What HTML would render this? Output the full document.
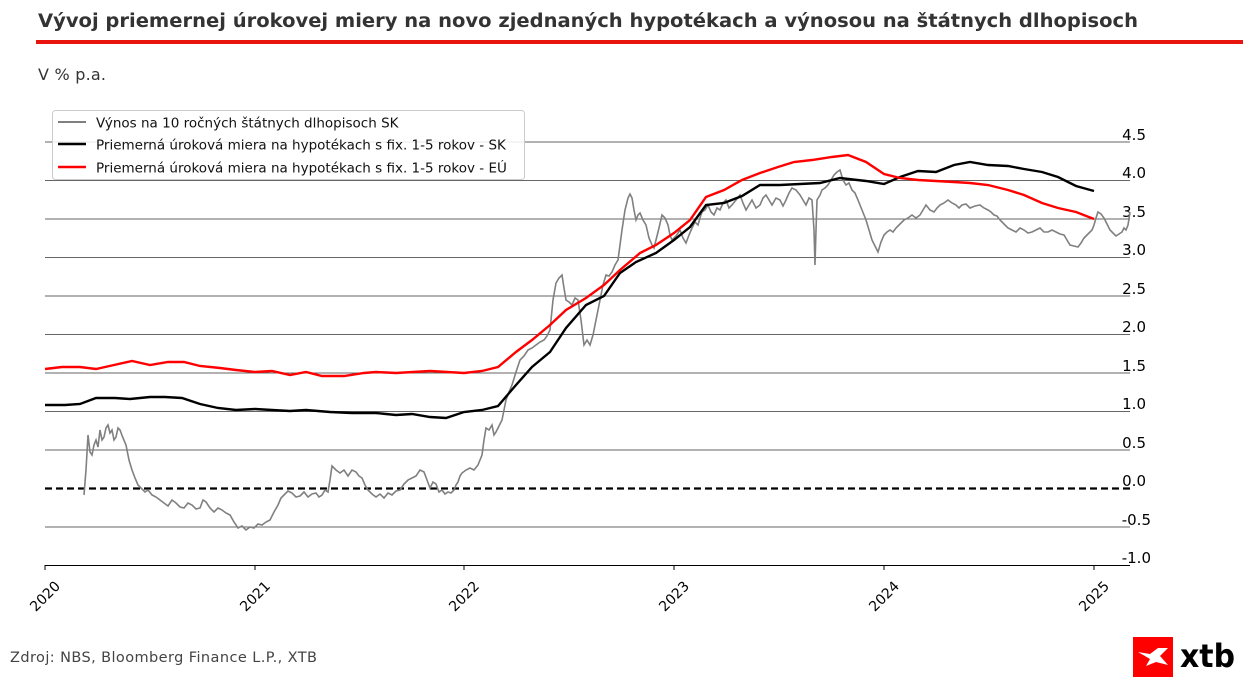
<!DOCTYPE html>
<html><head><meta charset="utf-8"><style>
body{margin:0;background:#fff;width:1245px;height:689px;overflow:hidden;font-family:"DejaVu Sans","Liberation Sans",sans-serif}
</style></head><body>
<svg width="1245" height="689" xmlns="http://www.w3.org/2000/svg" font-family="DejaVu Sans, Liberation Sans, sans-serif">
<text x="38" y="27" font-size="18.5" font-weight="bold" fill="#333" textLength="1100" lengthAdjust="spacingAndGlyphs">Vývoj priemernej úrokovej miery na novo zjednaných hypotékach a výnosou na štátnych dlhopisoch</text>
<rect x="36" y="40" width="1207" height="4" fill="#e8150f"/>
<text x="38" y="80" font-size="16" fill="#333" textLength="68">V % p.a.</text>
<g stroke="#666" stroke-width="1">
<line x1="45" x2="1130" y1="142" y2="142"/><line x1="45" x2="1130" y1="180.5" y2="180.5"/><line x1="45" x2="1130" y1="219" y2="219"/><line x1="45" x2="1130" y1="257.5" y2="257.5"/><line x1="45" x2="1130" y1="296" y2="296"/><line x1="45" x2="1130" y1="334.5" y2="334.5"/><line x1="45" x2="1130" y1="373" y2="373"/><line x1="45" x2="1130" y1="411.5" y2="411.5"/><line x1="45" x2="1130" y1="450" y2="450"/><line x1="45" x2="1130" y1="527" y2="527"/>
</g>
<line x1="45" x2="1130" y1="565.5" y2="565.5" stroke="#000" stroke-width="1"/>
<line x1="45" x2="1130" y1="488.5" y2="488.5" stroke="#000" stroke-width="2.2" stroke-dasharray="7,4"/>
<g font-size="15" fill="#000" text-anchor="end">
<text x="1146" y="140">4.5</text><text x="1146" y="178">4.0</text><text x="1146" y="217">3.5</text><text x="1146" y="255">3.0</text><text x="1146" y="294">2.5</text><text x="1146" y="332">2.0</text><text x="1146" y="371">1.5</text><text x="1146" y="409">1.0</text><text x="1146" y="448">0.5</text><text x="1146" y="486">0.0</text><text x="1151" y="525">-0.5</text><text x="1151" y="563">-1.0</text>
</g>
<g stroke="#000"><line x1="45" x2="45" y1="565" y2="570"/><line x1="255" x2="255" y1="565" y2="570"/><line x1="464" x2="464" y1="565" y2="570"/><line x1="674" x2="674" y1="565" y2="570"/><line x1="884" x2="884" y1="565" y2="570"/><line x1="1094" x2="1094" y1="565" y2="570"/></g>
<g font-size="14" fill="#000" text-anchor="end">
<text transform="translate(61,587) rotate(-45)">2020</text><text transform="translate(271,587) rotate(-45)">2021</text><text transform="translate(480,587) rotate(-45)">2022</text><text transform="translate(690,587) rotate(-45)">2023</text><text transform="translate(900,587) rotate(-45)">2024</text><text transform="translate(1110,587) rotate(-45)">2025</text>
</g>
<polyline fill="none" stroke="#808080" stroke-width="1.6" points="84,495 86,470 88,435 90,452 92,455 94,445 96,440 98,447 100,430 102,440 104,437 106,428 108,425 110,433 112,430 114,440 116,437 118,428 120,430 123,438 126,445 129,460 132,470 135,478 138,485 141,488 145,492 148,490 152,495 156,497 160,500 164,503 168,506 172,500 176,503 180,507 184,508 188,503 192,505 196,509 200,508 203,500 206,502 210,508 214,512 218,508 222,510 226,513 230,515 234,522 238,528 242,526 246,530 250,527 254,528 258,524 262,525 266,522 270,520 274,512 278,505 281,498 284,495 288,491 292,493 296,497 300,496 304,492 308,497 312,494 316,493 319,497 322,495 325,490 328,492 330,480 332,466 336,470 340,473 344,470 348,476 352,470 356,472 359,476 362,478 365,485 368,490 372,494 376,497 380,494 384,498 388,493 392,495 396,491 400,490 404,484 408,480 412,478 416,476 420,470 424,472 427,480 430,488 433,482 436,484 439,492 442,490 445,494 448,492 451,493 454,490 456,485 458,482 460,476 462,473 466,470 470,468 474,470 478,465 480,460 482,455 484,440 486,428 489,430 492,425 494,435 496,432 499,426 502,420 504,410 506,400 509,392 512,385 516,372 520,360 524,356 528,350 532,348 536,345 540,342 544,340 547,336 550,330 553,300 556,283 559,278 562,275 564,288 566,300 569,302 572,305 575,298 578,300 581,320 584,345 587,340 590,345 593,335 596,320 598,310 600,300 603,285 606,275 609,276 612,272 615,265 618,260 620,245 622,230 625,210 628,198 630,194 632,198 634,210 636,220 638,215 640,213 643,220 646,225 649,238 652,245 654,248 656,240 659,228 662,215 665,218 668,225 670,235 672,240 676,236 680,230 683,238 686,243 689,235 692,228 695,222 698,225 700,218 702,212 705,210 708,205 711,212 714,215 717,208 720,210 723,203 726,200 729,208 732,205 736,200 740,195 743,203 746,210 749,205 752,200 756,208 760,205 763,198 766,195 769,200 772,205 776,198 780,200 783,206 786,200 789,193 792,188 796,190 800,195 803,200 806,205 809,198 812,200 814,230 815,265 816,230 817,200 820,195 822,190 825,188 828,185 831,180 834,175 837,172 840,170 843,180 846,185 849,183 852,190 855,193 858,200 862,210 866,220 869,230 872,240 875,246 878,252 881,242 884,235 887,232 890,230 893,232 896,228 900,224 904,220 908,218 912,215 916,218 920,215 923,210 926,205 930,210 934,212 937,208 940,205 944,203 948,200 952,203 956,205 959,208 962,205 966,204 970,208 975,206 980,205 984,208 988,210 991,212 994,215 997,216 1000,220 1004,224 1008,228 1012,230 1016,232 1020,228 1024,230 1028,233 1032,232 1036,230 1040,228 1044,232 1048,232 1052,230 1056,232 1060,234 1064,235 1067,240 1070,245 1074,246 1078,247 1081,243 1084,238 1087,235 1090,232 1092,230 1094,225 1096,218 1098,212 1101,214 1104,218 1107,224 1110,230 1113,233 1116,236 1119,234 1122,232 1124,228 1126,230 1128,225 1130,212"/>
<polyline fill="none" stroke="#000" stroke-width="2.4" points="45,405 65,405 80,404 96,398 115,398 130,399 150,397 165,397 182,398 200,404 218,408 236,410 255,409 272,410 290,411 306,410 330,412 352,413 376,413 396,415 412,414 430,417 446,418 464,412 482,410 498,406 516,385 532,367 550,352 566,328 586,305 604,296 620,273 636,262 656,253 674,240 690,227 706,205 724,203 742,196 760,185 780,185 800,184 820,183 840,178 866,181 884,184 900,177 918,171 936,172 954,165 970,162 988,165 1008,166 1024,169 1042,172 1058,177 1076,186 1094,191"/>
<polyline fill="none" stroke="#ff0000" stroke-width="2.4" points="45,369 62,367 80,367 96,369 114,365 132,361 150,365 168,362 184,362 200,366 220,368 236,370 255,372 272,371 290,375 306,372 322,376 344,376 364,373 376,372 396,373 430,371 464,373 482,371 498,367 516,352 532,340 550,325 566,310 586,298 604,285 620,270 640,253 656,245 674,233 690,220 706,197 724,190 742,180 760,173 778,167 794,162 812,160 832,157 848,155 866,162 884,174 900,178 918,180 936,181 954,182 970,183 988,185 1008,190 1024,195 1042,203 1058,208 1076,212 1094,219"/>
<rect x="52.5" y="110.5" width="472" height="69" rx="3" fill="#fff" fill-opacity="0.85" stroke="#ccc"/>
<line x1="58" x2="86" y1="122" y2="122" stroke="#808080" stroke-width="2"/>
<line x1="58" x2="86" y1="144" y2="144" stroke="#000" stroke-width="2.4"/>
<line x1="58" x2="86" y1="167" y2="167" stroke="#ff0000" stroke-width="2.4"/>
<g font-size="13.5" fill="#111"><text x="96" y="127.5">Výnos na 10 ročných štátnych dlhopisoch SK</text><text x="96" y="149.5">Priemerná úroková miera na hypotékach s fix. 1-5 rokov - SK</text><text x="96" y="172.5">Priemerná úroková miera na hypotékach s fix. 1-5 rokov - EÚ</text></g>
<text x="10" y="662" font-size="14.5" fill="#444" textLength="307">Zdroj: NBS, Bloomberg Finance L.P., XTB</text>
<rect x="1133" y="637" width="40" height="40" fill="#ff0000"/>
<path d="M1138,652 L1150,654 L1158,648 L1168,648 L1160,656 L1168,665 L1156,662 L1146,666 L1150,659 Z" fill="#fff"/>
<text x="1180" y="667" font-size="32" font-weight="bold" fill="#000" textLength="55" lengthAdjust="spacingAndGlyphs">xtb</text>
</svg>
</body></html>
